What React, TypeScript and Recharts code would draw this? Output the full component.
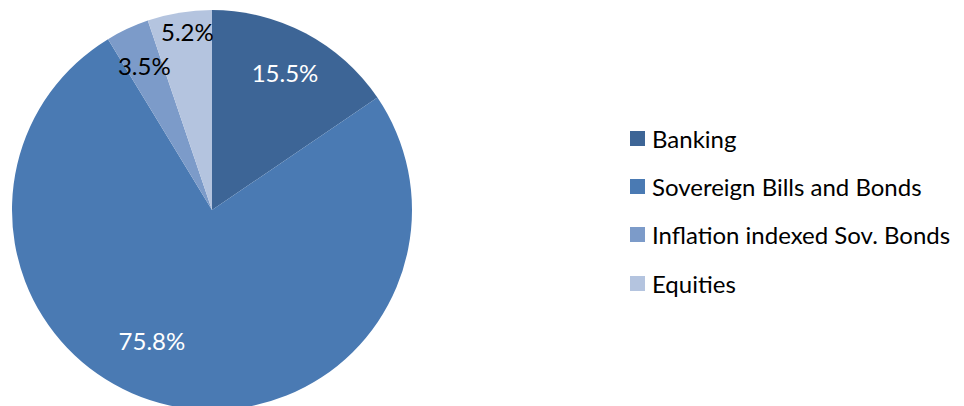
import { PieChart, Pie, Cell, Legend } from "recharts";

const CATEGORIES = ["Banking", "Sovereign Bills and Bonds", "Inflation indexed Sov. Bonds", "Equities"];
const SHARES = [15.5, 75.8, 3.5, 5.2];
const COLORS = ["#3D6596", "#4A7AB3", "#7C9BC9", "#B4C4DF"];
const LABEL_COLORS = ["#ffffff", "#ffffff", "#000000", "#000000"];

// label placement tweaks (fraction of radius, degrees shift from mid angle)
const LABEL_RADIUS = [0.78, 0.72, 0.8, 0.9];
const LABEL_SHIFT = [0, -12.4, 0, -1.5];

const data = CATEGORIES.map((name, i) => ({ name, value: SHARES[i] }));

const FONT = "Lato, 'DejaVu Sans', sans-serif";
const RAD = Math.PI / 180;

const renderLabel = (props: any) => {
  const { cx, cy, outerRadius, midAngle, index, value } = props;
  const a = (midAngle + LABEL_SHIFT[index]) * RAD;
  const r = outerRadius * LABEL_RADIUS[index];
  const x = cx + r * Math.cos(a);
  const y = cy - r * Math.sin(a);
  return (
    <text
      x={x}
      y={y}
      fill={LABEL_COLORS[index]}
      textAnchor="middle"
      dominantBaseline="central"
      fontFamily={FONT}
      fontSize={24}
    >
      {value.toFixed(1)}%
    </text>
  );
};

// keep legend in data order (Recharts would sort it by name)
const renderLegend = () => (
  <div style={{ fontFamily: FONT, fontSize: 24, color: "#000" }}>
    {CATEGORIES.map((name, i) => (
      <div key={name} style={{ display: "flex", alignItems: "center", height: 48.4 }}>
        <span style={{ width: 15, height: 15, background: COLORS[i], marginRight: 7, display: "inline-block" }} />
        <span>{name}</span>
      </div>
    ))}
  </div>
);

export default function App() {
  return (
    <div style={{ position: "absolute", left: 0, top: 0, width: 964, height: 406, background: "#fff" }}>
      <PieChart width={964} height={406} margin={{ top: 0, right: 0, bottom: 0, left: 0 }}>
        <Pie
          data={data}
          dataKey="value"
          nameKey="name"
          cx={212}
          cy={210}
          outerRadius={200}
          startAngle={90}
          endAngle={-270}
          stroke="none"
          label={renderLabel}
          labelLine={false}
          isAnimationActive={false}
        >
          {data.map((d, i) => (
            <Cell key={d.name} fill={COLORS[i]} />
          ))}
        </Pie>
        <Legend
          layout="vertical"
          content={renderLegend}
          wrapperStyle={{ position: "absolute", left: 630, top: 114, width: 334 }}
        />
      </PieChart>
    </div>
  );
}
